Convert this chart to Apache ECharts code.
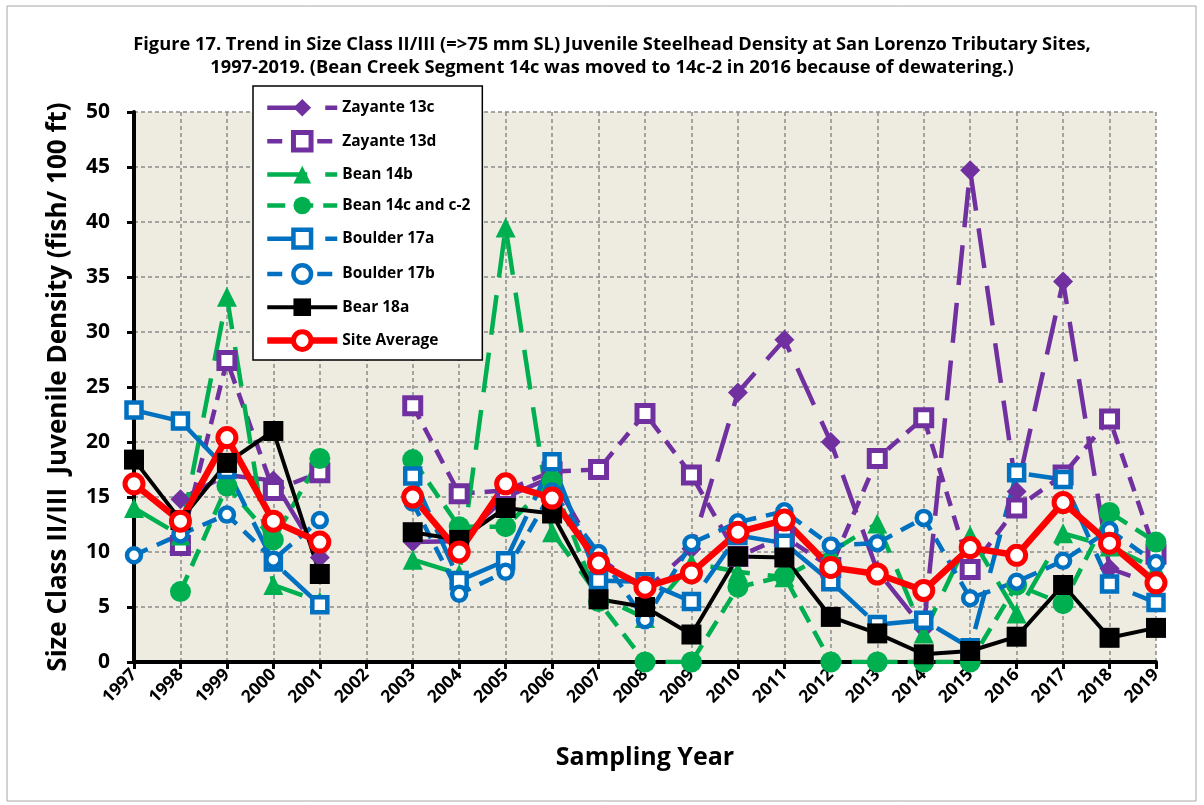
<!DOCTYPE html>
<html>
<head>
<meta charset="utf-8">
<script src="https://cdn.jsdelivr.net/npm/echarts@6/dist/echarts.min.js"></script>
<style>
  html, body { margin: 0; padding: 0; background: #fff; }
  #chart { width: 1204px; height: 805px; }
</style>
</head>
<body>
<div id="chart"></div>
<script>
const years = ['1997','1998','1999','2000','2001','2002','2003','2004','2005','2006','2007','2008',
  '2009','2010','2011','2012','2013','2014','2015','2016','2017','2018','2019']

const zayante13c = [null, 14.8, 17.0, 16.5, 9.5, null, 10.9, 11.0, 15.0, 16.8, 9.5, 6.5, 10.3, 24.5, 29.3, 20.0, 8.3, 3.0, 44.7, 15.5, 34.6, 8.5, 7.0]
const zayante13d = [null, 10.6, 27.4, 15.6, 17.2, null, 23.3, 15.3, 15.6, 17.3, 17.5, 22.6, 17.0, 9.6, 11.4, 8.6, 18.5, 22.2, 8.4, 14.0, 17.0, 22.1, 9.8]
const bean14b = [14.0, 11.5, 33.2, 7.0, 5.5, null, 9.3, 8.0, 39.5, 11.8, 6.0, 4.0, 9.0, 8.2, 7.7, 10.0, 12.6, 2.6, 11.5, 4.4, 11.7, 10.5, 8.5]
const bean14c = [null, 6.4, 16.0, 11.1, 18.5, null, 18.4, 12.3, 12.3, 16.5, 5.5, 0, 0, 6.8, 7.8, 0, 0, 0, 0, 7.0, 5.3, 13.6, 10.9]
const boulder17a = [22.9, 21.9, 17.5, 9.1, 5.2, null, 16.9, 7.4, 9.2, 18.2, 7.4, 7.3, 5.5, 11.5, 10.8, 7.3, 3.4, 3.8, 1.3, 17.2, 16.6, 7.1, 5.4]
const boulder17b = [9.7, 11.6, 13.4, 9.3, 12.9, null, 14.5, 6.2, 8.2, 15.5, 9.9, 3.8, 10.8, 12.7, 13.7, 10.6, 10.8, 13.1, 5.8, 7.3, 9.2, 12.0, 9.0]
const bear18a = [18.4, 12.9, 18.1, 21.0, 8.0, null, 11.8, 11.1, 14.0, 13.5, 5.7, 5.0, 2.5, 9.6, 9.5, 4.1, 2.6, 0.7, 1.0, 2.3, 7.0, 2.2, 3.1]
const siteAverage = [16.2, 12.8, 20.4, 12.8, 10.9, null, 15.0, 10.0, 16.2, 14.9, 9.0, 6.8, 8.1, 11.8, 12.9, 8.6, 8.0, 6.5, 10.4, 9.7, 14.5, 10.8, 7.2]

const PURPLE = '#7030A0'
const GREEN = '#00B050'
const BLUE = '#0070C0'
const FONT = '"Open Sans", Lato, sans-serif'

const line = (name, data, color, dash, width, symbol, size, hollow, borderWidth) => ({
  name,
  type: 'line',
  data,
  connectNulls: false,
  symbol,
  symbolSize: size,
  showAllSymbol: true,
  lineStyle: { color, width, type: dash },
  itemStyle: hollow
    ? { color: '#fff', borderColor: color, borderWidth }
    : { color, borderColor: color, borderWidth: borderWidth || 0 },
  emphasis: { disabled: true }
})

const seriesList = [
  line('Zayante 13c', zayante13c, PURPLE, [40, 18], 4.5, 'diamond', 20, false),
  line('Zayante 13d', zayante13d, PURPLE, [15, 10], 4.5, 'rect', 16, true, 5),
  line('Bean 14b', bean14b, GREEN, [40, 18], 4.5, 'triangle', 20, false),
  line('Bean 14c and c-2', bean14c, GREEN, [18, 10], 4.5, 'circle', 21, false),
  line('Boulder 17a', boulder17a, BLUE, [40, 18], 4.5, 'rect', 15, true, 4.5),
  line('Boulder 17b', boulder17b, BLUE, [15, 10], 4.5, 'circle', 14, true, 4.5),
  line('Bear 18a', bear18a, '#000', 'solid', 4, 'rect', 20, false),
  line('Site Average', siteAverage, '#FF0000', 'solid', 6.5, 'circle', 18, true, 5)
]

const chart = echarts.init(document.getElementById('chart'))

chart.setOption({
  animation: false,
  backgroundColor: '#fff',
  textStyle: { fontFamily: FONT },
  graphic: [
    { type: 'rect', shape: { x: 7, y: 6, width: 1189, height: 795 },
      style: { fill: 'none', stroke: '#a6a6a6', lineWidth: 1 } },
    { type: 'text', x: 612, y: 45,
      style: { text: 'Figure 17. Trend in Size Class II/III (=>75 mm SL) Juvenile Steelhead Density at San Lorenzo Tributary Sites,',
        font: 'bold 18.3px ' + FONT, fill: '#000', align: 'center', verticalAlign: 'middle' } },
    { type: 'text', x: 612, y: 68,
      style: { text: '1997-2019. (Bean Creek Segment 14c was moved to 14c-2 in 2016 because of dewatering.)',
        font: 'bold 18.3px ' + FONT, fill: '#000', align: 'center', verticalAlign: 'middle' } }
  ],
  grid: {
    left: 134, right: 48, top: 112, bottom: 143,
    show: true, backgroundColor: '#EEECE1', borderWidth: 0
  },
  legend: {
    orient: 'vertical',
    left: 253, top: 86,
    padding: [13, 12, 8, 11],
    itemWidth: 70, itemHeight: 22, itemGap: 13.3,
    backgroundColor: '#fff',
    borderColor: '#000', borderWidth: 1.5,
    textStyle: { fontFamily: FONT, fontWeight: 'bold', fontSize: 15.5, color: '#000' },
    data: seriesList.map(s => ({
      name: s.name,
      lineStyle: { width: s.lineStyle.width },
      itemStyle: s.itemStyle
    }))
  },
  xAxis: {
    type: 'category',
    data: years,
    boundaryGap: false,
    name: 'Sampling Year',
    nameLocation: 'middle',
    nameGap: 83,
    nameTextStyle: { fontFamily: FONT, fontWeight: 'bold', fontSize: 25, color: '#000' },
    axisLine: { lineStyle: { color: '#000', width: 4 } },
    axisTick: { show: true, length: 7, lineStyle: { color: '#000', width: 3 } },
    axisLabel: { interval: 0, rotate: 45, margin: 10, fontFamily: FONT, fontWeight: 'bold', fontSize: 17.5, color: '#000' },
    splitLine: { show: true, lineStyle: { color: '#8a8a8a', width: 1.5, type: [4, 3] } }
  },
  yAxis: {
    type: 'value',
    min: 0, max: 50, interval: 5,
    name: 'Size Class II/III  Juvenile Density (fish/ 100 ft)',
    nameLocation: 'middle',
    nameGap: 62,
    nameTextStyle: { fontFamily: FONT, fontWeight: 'bold', fontSize: 26, color: '#000' },
    axisLine: { show: true, lineStyle: { color: '#000', width: 4 } },
    axisTick: { show: true, length: 7, lineStyle: { color: '#000', width: 3 } },
    axisLabel: { margin: 24, fontFamily: FONT, fontWeight: 'bold', fontSize: 21, color: '#000' },
    splitLine: { show: true, lineStyle: { color: '#8a8a8a', width: 1.5, type: [4, 3] } }
  },
  series: seriesList
})
</script>
</body>
</html>
